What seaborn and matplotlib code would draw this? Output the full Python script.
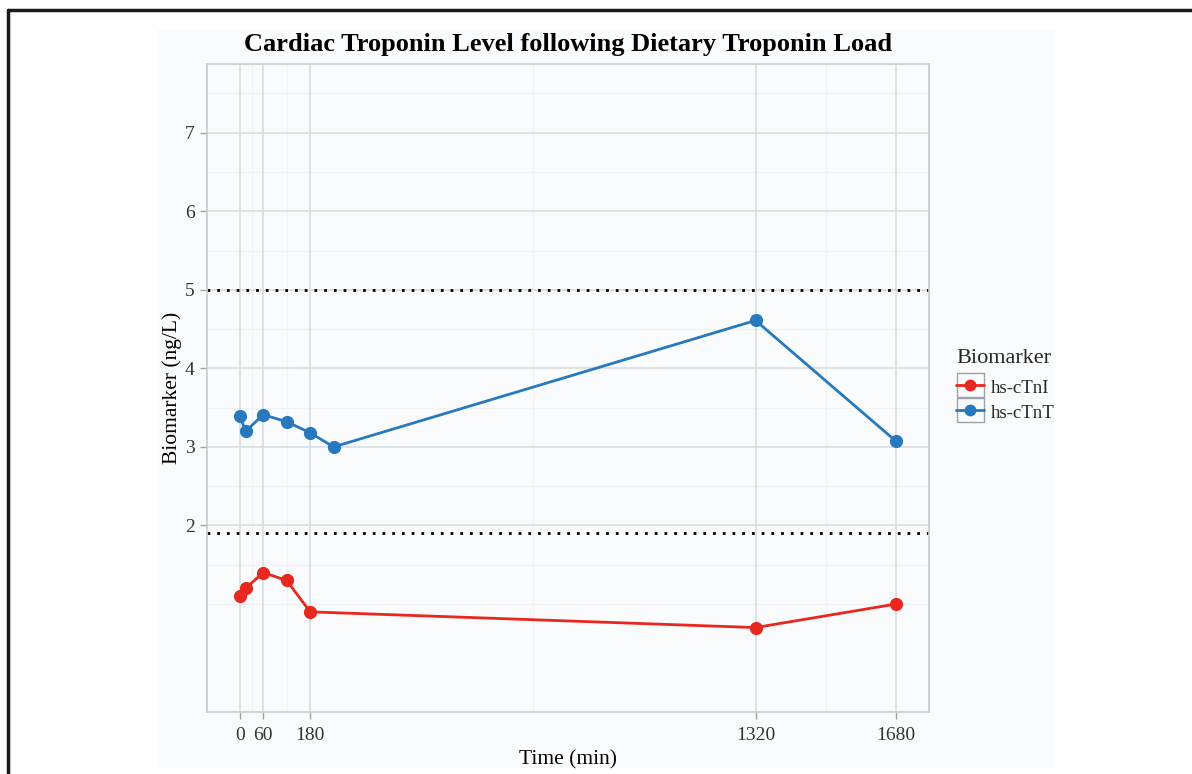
import numpy as np
import pandas as pd
import matplotlib
matplotlib.use("Agg")
import matplotlib.pyplot as plt
from matplotlib.lines import Line2D
from matplotlib.patches import Rectangle
import seaborn as sns

# Data
time_tnt = [0, 15, 60, 120, 180, 240, 1320, 1680]
tnt_values = [3.39, 3.20, 3.41, 3.32, 3.18, 3.00, 4.61, 3.07]
time_tni = [0, 15, 60, 120, 180, 1320, 1680]
tni_values = [1.10, 1.20, 1.40, 1.30, 0.90, 0.70, 1.00]
biomarkers = ["hs-cTnI", "hs-cTnT"]
x_ticks = [0, 60, 180, 1320, 1680]
y_ticks = [2, 3, 4, 5, 6, 7]
ref_lines = [5.0, 1.9]

df = pd.concat([
    pd.DataFrame({"Time": time_tni, "Value": tni_values, "Biomarker": biomarkers[0]}),
    pd.DataFrame({"Time": time_tnt, "Value": tnt_values, "Biomarker": biomarkers[1]}),
], ignore_index=True)

colors = {"hs-cTnI": "#E8271E", "hs-cTnT": "#2878BE"}

sns.set_theme(style="white")
plt.rcParams["font.family"] = ["Liberation Serif", "DejaVu Serif"]

W, H = 1192, 774
fig = plt.figure(figsize=(W / 100, H / 100), dpi=100)
fig.patch.set_facecolor("white")

# light plot background and frame lines
fig.add_artist(Rectangle((158 / W, 1 - 768 / H), (1055 - 158) / W, (768 - 29) / H,
                         transform=fig.transFigure, facecolor="#FAFBFD", edgecolor="none", zorder=0))
fig.add_artist(Line2D([8 / W, 1], [1 - 10 / H, 1 - 10 / H], transform=fig.transFigure,
                      color="#1a1a1a", lw=2.5))
fig.add_artist(Line2D([8 / W, 8 / W], [0, 1 - 10 / H], transform=fig.transFigure,
                      color="#1a1a1a", lw=2.5))

ax = fig.add_axes([207 / W, 1 - 712 / H, (929 - 207) / W, (712 - 64) / H])
ax.set_facecolor("#FAFBFD")

# grid lines
for xm in [30, 120, 750, 1500]:
    ax.axvline(xm, color="#F0F2F5", lw=1, zorder=0)
for ym in [1.0, 1.5, 2.5, 3.5, 4.5, 5.5, 6.5, 7.5]:
    ax.axhline(ym, color="#F0F2F5", lw=1, zorder=0)
for xv in x_ticks:
    ax.axvline(xv, color="#D8DDE1", lw=1.2, zorder=0.5)
for yv in y_ticks:
    ax.axhline(yv, color="#D8DDE1", lw=1.2, zorder=0.5)

for yr in ref_lines:
    ax.axhline(yr, color="black", lw=2, linestyle=(0, (1, 2.5)), zorder=1)

sns.lineplot(data=df, x="Time", y="Value", hue="Biomarker", palette=colors,
             marker="o", markersize=9.5, markeredgewidth=0, linewidth=2,
             legend=False, ax=ax, zorder=3)

ax.set_xlim(-84, 1764)
ax.set_ylim(-0.375, 7.875)
ax.set_xticks(x_ticks)
ax.set_yticks(y_ticks)
ax.tick_params(axis="both", length=5, width=1, color="#9AA3AA", labelsize=14,
               labelcolor="#333333", bottom=True, left=True)
ax.tick_params(axis="x", pad=6)
ax.tick_params(axis="y", pad=4)
for s in ax.spines.values():
    s.set_color("#C5CCD2")
    s.set_linewidth(1.2)

ax.set_xlabel("Time (min)", fontsize=15.5, color="black", labelpad=4)
ax.set_ylabel("Biomarker (ng/L)", fontsize=15.5, color="black", labelpad=2)
ax.set_title("Cardiac Troponin Level following Dietary Troponin Load",
             fontsize=19, fontweight="bold", color="black", pad=9)

handles = [Line2D([], [], color=colors[b], marker="o", markersize=8.5, markeredgewidth=0, lw=2)
           for b in biomarkers]
leg = fig.legend(handles, biomarkers, title="Biomarker", loc="upper left",
                 bbox_to_anchor=(956 / W, 1 - 349 / H), frameon=False,
                 fontsize=13.5, title_fontsize=16, handlelength=1.5,
                 handleheight=1.1, handletextpad=0.35, labelspacing=0.3,
                 borderaxespad=0, borderpad=0)
leg._legend_box.align = "left"
leg._legend_box.sep = 7

# boxes round the legend keys
fig.canvas.draw()
for h in leg.legend_handles:
    bb = h.get_window_extent(fig.canvas.get_renderer())
    cx, cy = (bb.x0 + bb.x1) / 2, (bb.y0 + bb.y1) / 2
    bw, bh = 27, 24
    fig.add_artist(Rectangle(((cx - bw / 2) / W, (cy - bh / 2) / H), bw / W, bh / H,
                             transform=fig.transFigure, facecolor="none",
                             edgecolor="#9AA3AA", lw=1, zorder=5))

fig.savefig("out.png", dpi=100)
